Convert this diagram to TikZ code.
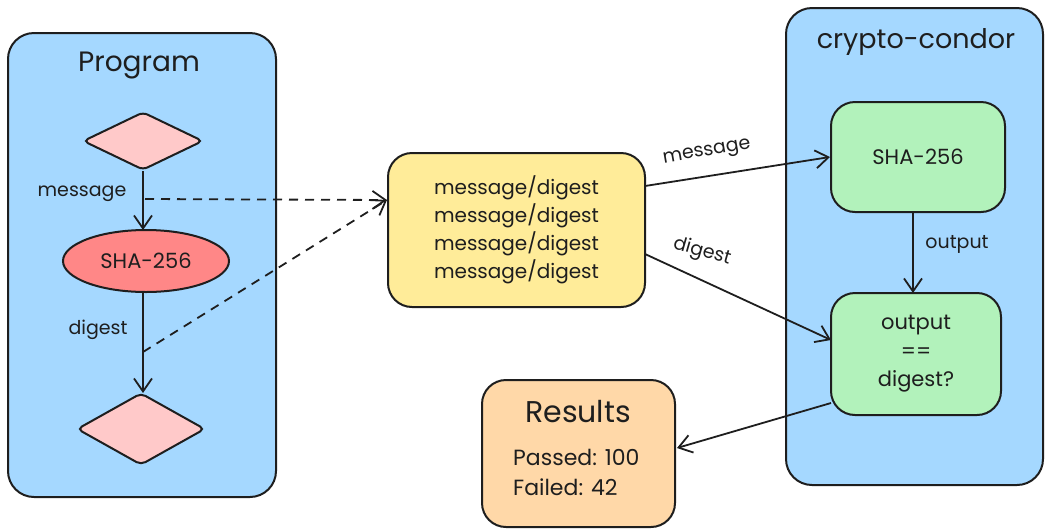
\documentclass[tikz,border=0pt]{standalone}
\usepackage{fontspec}
\setmainfont{Poppins}
\usetikzlibrary{shapes.geometric,arrows.meta,calc}
\definecolor{ink}{HTML}{1E1E1E}
\definecolor{panelblue}{HTML}{A5D8FF}
\definecolor{pinkfill}{HTML}{FFC9C9}
\definecolor{redfill}{HTML}{FF8787}
\definecolor{yellowfill}{HTML}{FFEC99}
\definecolor{greenfill}{HTML}{B2F2BB}
\definecolor{orangefill}{HTML}{FFD8A8}
\tikzset{
  sk/.style={draw=ink, line width=2pt},
  panel/.style={sk, fill=panelblue, rounded corners=26pt, inner sep=0pt},
  box/.style={sk, rounded corners=24pt, inner sep=0pt, align=center, text=ink},
  dia/.style={sk, fill=pinkfill, shape=diamond, inner sep=0pt, rounded corners=5pt},
  conn/.style={draw=ink, line width=1.8pt, -{Straight Barb[length=13pt,width=18pt,line width=1.8pt]}},
  dconn/.style={conn, dash pattern=on 9pt off 7pt},
  lbl/.style={text=ink, font=\fontsize{19}{22}\selectfont, inner sep=1pt},
  title/.style={text=ink, font=\fontsize{28}{32}\selectfont},
  body/.style={font=\fontsize{20}{28}\selectfont},
}
\begin{document}
\begin{tikzpicture}[x=1pt,y=-1pt]
\useasboundingbox (0,0) rectangle (1045,531);
% panels
\node[panel, minimum width=268pt, minimum height=464pt] (prog) at (142,265) {};
\node[panel, minimum width=257pt, minimum height=477pt] (cc) at (914.5,246.5) {};
\node[title] (progt) at (139,66) {Program};
\node[title, font=\fontsize{27}{32}\selectfont] (cct) at (916,42) {crypto-condor};
% program flow
\node[dia, minimum width=120pt, minimum height=58pt] (d1) at (143,141) {};
\node[sk, fill=redfill, ellipse, minimum width=166pt, minimum height=62pt, inner sep=0pt, text=ink, font=\fontsize{21}{24}\selectfont] (sha1) at (146,261) {SHA-256};
\node[dia, minimum width=128pt, minimum height=72pt] (d2) at (141,429) {};
\coordinate (sha1top) at (143,230);
\coordinate (sha1bot) at (143,292);
\coordinate (d2top) at (143,393);
\draw[conn] (d1.south) -- (sha1top);
\draw[conn] (sha1bot) -- (d2top);
\node[lbl] (lm) at (82,194) {message};
\node[lbl] (ld) at (98,330) {digest};
% data box
\node[box, fill=yellowfill, minimum width=257pt, minimum height=154pt, body] (yb) at (516.5,230) {message/digest\\message/digest\\message/digest\\message/digest};
\coordinate (tapm) at (145,199);
\coordinate (tapd) at (143,352);
\coordinate (yin) at (387,200);
\draw[dconn] (tapm) -- (yin);
\draw[dconn] (tapd) -- (yin);
% crypto-condor boxes
\node[box, fill=greenfill, minimum width=174pt, minimum height=110pt, font=\fontsize{21}{24}\selectfont] (sha2) at (918,157) {SHA-256};
\node[box, fill=greenfill, minimum width=170pt, minimum height=122pt, font=\fontsize{21}{28.5}\selectfont] (cmp) at (916,354) {output\\==\\digest?};
\coordinate (shabot) at (913,212);
\coordinate (cmptop) at (913,293);
\draw[conn] (shabot) -- (cmptop);
\node[lbl] (lo) at (957,244) {output};
\coordinate (ym) at (645,186);
\coordinate (yd) at (645,254);
\coordinate (cmpin) at (831,340);
\draw[conn] (ym) -- (sha2.west);
\draw[conn] (yd) -- (cmpin);
\node[lbl, rotate=10] (lm2) at (707,153) {message};
\node[lbl, rotate=-16] (ld2) at (702,252) {digest};
% results
\node[box, fill=orangefill, minimum width=193pt, minimum height=147pt] (res) at (578.5,453.5) {};
\node[title, font=\fontsize{30}{34}\selectfont] (rest) at (578,412) {Results};
\node[text=ink, align=left, anchor=west, inner sep=0pt, font=\fontsize{22}{30}\selectfont] (resb) at (513,472) {Passed: 100\\Failed: 42};
\coordinate (cmpout) at (831,403);
\coordinate (resin) at (677,448);
\draw[conn] (cmpout) -- (resin);
\end{tikzpicture}
\end{document}
